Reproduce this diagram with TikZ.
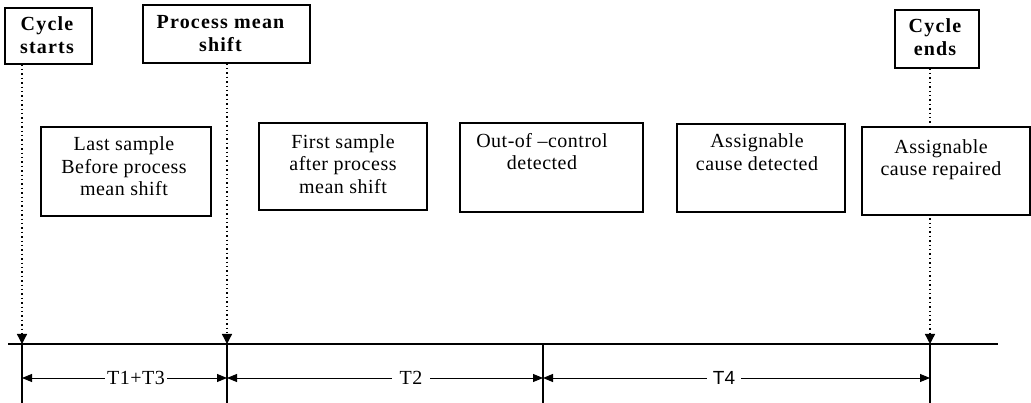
\documentclass[tikz,border=0pt]{standalone}
\usepackage{fontspec}
\setmainfont{Liberation Serif}
\newfontfamily\labelfont[LetterSpace=2.5]{Liberation Serif}
\newfontfamily\headfont[LetterSpace=6]{Liberation Serif}
\newfontfamily\spanfont{Liberation Sans}
\usetikzlibrary{arrows.meta}

\begin{document}
\begin{tikzpicture}[x=1pt,y=-1pt,
  frame/.style={draw, line width=1.1pt, fill=white, inner sep=0pt},
  boxtext/.style={anchor=north, align=center, inner sep=0pt,
    font=\labelfont\fontsize{20}{22.5}\selectfont},
  headtext/.style={anchor=north, align=center, inner sep=0pt,
    font=\headfont\bfseries\fontsize{20}{22.5}\selectfont},
  guide/.style={dash pattern=on 1.4pt off 3pt, line width=1.3pt,
    -{Triangle[length=10pt,width=10pt]}},
  axis/.style={line width=1.2pt},
  tick/.style={line width=1.2pt},
  span/.style={line width=1pt,
    {Triangle[length=10pt,width=8pt]}-{Triangle[length=10pt,width=8pt]}},
  spanlabel/.style={fill=white, inner ysep=1pt,
    font=\labelfont\fontsize{20}{22}\selectfont}
]
\useasboundingbox (0,0) rectangle (1031,403);

% time axis and the event positions on it
\coordinate (x0) at (22,344);
\coordinate (x1) at (227,344);
\coordinate (x2) at (543,344);
\coordinate (x3) at (930,344);
\coordinate (axL) at (8,344);
\coordinate (axR) at (998,344);
\coordinate (bot) at (0,403);
\coordinate (ylev) at (0,378);

% event headings
\node[frame, minimum width=87pt, minimum height=56pt] (cs) at (48.5,36) {};
\node[frame, minimum width=167pt, minimum height=58pt] (pms) at (226.5,34) {};
\node[frame, minimum width=84pt, minimum height=58pt] (ce) at (937,39) {};

% guides from the headings down to the axis (drawn before the boxes)
\draw[guide] (cs.south -| x0) -- (x0);
\draw[guide] (pms.south -| x1) -- (x1);
\draw[guide] (ce.south -| x3) -- (x3);

\node[headtext] (cst) at ([xshift=-1.5pt,yshift=-9pt]cs.north) {Cycle\\starts};
\node[headtext] (pmst) at ([xshift=-6pt,yshift=-11pt]pms.north) {Process mean\\shift};
\node[headtext] (cet) at ([xshift=-2pt,yshift=-9pt]ce.north) {Cycle\\ends};

% sampling and repair stages
\node[frame, minimum width=170pt, minimum height=89pt] (ls) at (126,171.5) {};
\node[frame, minimum width=168pt, minimum height=87pt] (fs) at (343,166.5) {};
\node[frame, minimum width=183pt, minimum height=89pt] (oc) at (551.5,167.5) {};
\node[frame, minimum width=168pt, minimum height=88pt] (ad) at (761,168) {};
\node[frame, minimum width=168pt, minimum height=88pt] (ar) at (946,171) {};

\node[boxtext] (lst) at ([xshift=-2pt,yshift=-10pt]ls.north) {Last sample\\Before process\\mean shift};
\node[boxtext] (fst) at ([yshift=-11.5pt]fs.north) {First sample\\after process\\mean shift};
\node[boxtext] (oct) at ([xshift=-9.5pt,yshift=-10.5pt]oc.north) {Out-of \textendash control\\detected};
\node[boxtext] (adt) at ([xshift=-4pt,yshift=-10pt]ad.north) {Assignable\\cause detected};
\node[boxtext] (art) at ([xshift=-5pt,yshift=-12.5pt]ar.north) {Assignable\\cause repaired};

% axis and ticks
\draw[axis] (axL) -- (axR);
\draw[tick] (x0) -- (x0 |- bot);
\draw[tick] (x1) -- (x1 |- bot);
\draw[tick] (x2) -- (x2 |- bot);
\draw[tick] (x3) -- (x3 |- bot);

% cycle segments
\draw[span] (x0 |- ylev) -- (x1 |- ylev);
\draw[span] (x1 |- ylev) -- (x2 |- ylev);
\draw[span] (x2 |- ylev) -- (x3 |- ylev);
\node[spanlabel, inner xsep=2pt] (t13) at (136,378) {T1+T3};
\node[spanlabel, inner xsep=8pt] (t2) at (411,378) {T2};
\node[spanlabel, inner xsep=6pt, font=\spanfont\fontsize{19}{22}\selectfont] (t4) at (724,378) {T4};
\end{tikzpicture}
\end{document}
